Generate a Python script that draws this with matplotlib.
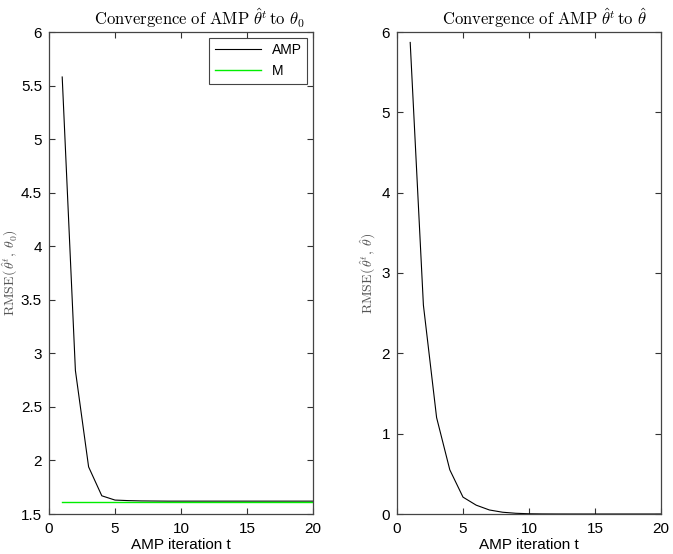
import matplotlib
matplotlib.use("Agg")
import matplotlib.pyplot as plt
import numpy as np

plt.rcParams["font.family"] = ["Liberation Sans", "DejaVu Sans"]
plt.rcParams["mathtext.fontset"] = "cm"

# iterations
t = np.arange(1, 21)

# left panel: RMSE of AMP estimate vs theta_0, and the M-estimator level
amp_vs_truth = [5.58, 2.84, 1.94, 1.67, 1.63, 1.625, 1.622, 1.621, 1.620, 1.620,
                1.620, 1.620, 1.620, 1.620, 1.620, 1.620, 1.620, 1.620, 1.620, 1.620]
m_level = [1.615] * 20

# right panel: RMSE of AMP estimate vs the M-estimate
amp_vs_m = [5.87, 2.60, 1.20, 0.55, 0.21, 0.11, 0.05, 0.022, 0.009, 0.003,
            0.001, 0.0004, 0.0001, 0.0, 0.0, 0.0, 0.0, 0.0, 0.0, 0.0]

fig = plt.figure(figsize=(6.73, 5.54), dpi=100)
ax1 = fig.add_axes([49 / 673, 40 / 554, 264 / 673, 482 / 554])
ax2 = fig.add_axes([397 / 673, 40 / 554, 264 / 673, 482 / 554])

ax1.plot(t, amp_vs_truth, color="black", lw=0.8, label="AMP")
ax1.plot(t, m_level, color="#00ee00", lw=1.0, label="M")
ax1.set_xlim(0, 20)
ax1.set_ylim(1.5, 6)
ax1.set_yticks(np.arange(1.5, 6.01, 0.5))
ax1.set_yticklabels(["1.5", "2", "2.5", "3", "3.5", "4", "4.5", "5", "5.5", "6"])
ax1.set_title(r"$\mathrm{Convergence\ of\ AMP}\ \hat{\theta}^t\,\mathrm{to}\ \theta_0$",
              fontsize=12, pad=5, x=0.57)
ax1.set_ylabel(r"$\mathrm{RMSE}(\,\hat{\theta}^t,\;\theta_0)$", fontsize=10,
               color="#555555")
ax1.yaxis.set_label_coords(-0.108, 0.5)
leg = ax1.legend(loc="upper right", fontsize=10, fancybox=False,
                 edgecolor="#444444", framealpha=1, borderaxespad=0.4,
                 handlelength=3.3)
leg.get_frame().set_linewidth(0.8)

ax2.plot(t, amp_vs_m, color="black", lw=0.8)
ax2.set_xlim(0, 20)
ax2.set_ylim(0, 6)
ax2.set_yticks(range(0, 7))
ax2.set_title(r"$\mathrm{Convergence\ of\ AMP}\ \hat{\theta}^t\,\mathrm{to}\ \hat{\theta}$",
              fontsize=12, pad=5, x=0.56)
ax2.set_ylabel(r"$\mathrm{RMSE}(\,\hat{\theta}^t,\;\hat{\theta})$", fontsize=10,
               color="#555555")
ax2.yaxis.set_label_coords(-0.072, 0.5)

for ax in (ax1, ax2):
    ax.set_xticks([0, 5, 10, 15, 20])
    ax.set_xlabel("AMP iteration t", fontsize=11, labelpad=1)
    ax.tick_params(direction="in", top=True, right=True, labelsize=11,
                   length=4, width=0.8, color="#333333")
    ax.tick_params(axis="x", pad=6)
    ax.tick_params(axis="y", pad=5)
    for s in ax.spines.values():
        s.set_color("#444444")
        s.set_linewidth(0.9)

fig.savefig("out.png", dpi=100)
